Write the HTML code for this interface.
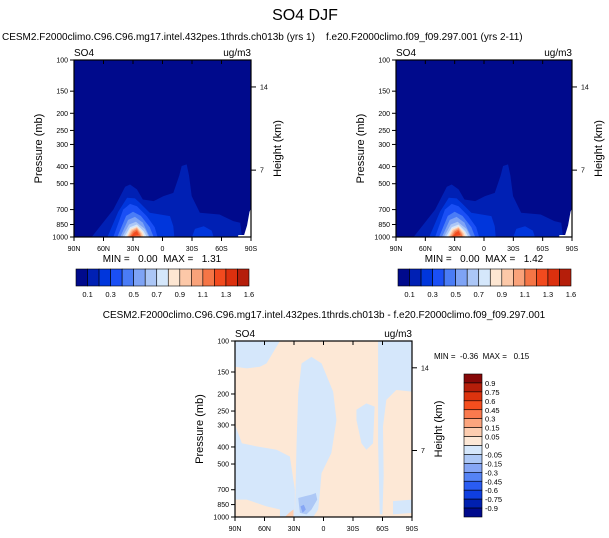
<!DOCTYPE html>
<html><head><meta charset="utf-8"><style>
body{margin:0;background:#fff}
svg{display:block;font-family:"Liberation Sans",sans-serif}
text{white-space:pre}
</style></head><body>
<svg id="c" width="609" height="538" viewBox="0 0 609 538">
<text x="305" y="20" font-size="16" text-anchor="middle">SO4 DJF</text>
</svg>
<script>
// ---- data ----
const pressureTicks=[100,150,200,250,300,400,500,700,850,1000];
const latTicks=[90,60,30,0,-30,-60,-90];
const latLabels=["90N","60N","30N","0","30S","60S","90S"];
const heightTicks=[142,419];
const heightLabels=["14","7"];
const topColors=["#000a8c","#0020b4","#0036dc","#1a4ff5","#4a7cf6","#7ea3f5","#abc6f6","#d5e7fb","#fde6d2","#fcc8a8","#f9a27a","#f57546","#f24a1e","#dc300e","#b51e0a","#860808"];
const topLabels=["0.1","0.3","0.5","0.7","0.9","1.1","1.3","1.6"];
const topLevels=[1,2,2,3,4,5,6,7,8,9,10,11,12];
const topShapes=[
 [[72,1000],[50,700],[38,520],[33,505],[26,538],[20,614],[9,627],[-1,588],[-11,563],[-17,450],[-19.5,397],[-24.6,389],[-27,450],[-29.7,588],[-38,730],[-58,746],[-72,813],[-79,831],[-80.5,967],[-81,1000]],
 [[56,1000],[45,720],[36,600],[28,605],[23,641],[13,730],[-7.6,762],[-11,870],[-12,1000]],
 [[-30,1000],[-33,900],[-42,870],[-50,920],[-52,1000]],
 [[50,1000],[40,700],[33,650],[26,670],[16,762],[8,880],[5,1000]],
 [[46,1000],[37,760],[30,720],[22,760],[13,880],[9,1000]],
 [[43,1000],[35,800],[28,770],[20,830],[13,1000]],
 [[41,1000],[34,850],[27,820],[18,900],[14,1000]],
 [[39,1000],[33,880],[26,850],[19,930],[16,1000]],
 [[37,1000],[33,900],[26,870],[20,940],[18,1000]],
 [[36,1000],[32,910],[26,880],[21,950],[19.5,1000]],
 [[35,1000],[31,920],[26,890],[22,955],[21,1000]],
 [[33.5,1000],[30,930],[26,905],[23,960],[22,1000]],
 [[32,995],[29,945],[26,925],[24,975]]
];
const missingShape=[[-77,1000],[-77,975],[-83,975],[-86,860],[-88.5,720],[-90,690],[-90,1000]];
const diffColors=["#860808","#b51e0a","#dc330e","#f54e1e","#fa7a4e","#fca57e","#fdcdb0","#fde8d6","#d5e7fb","#adc8f6","#86a6f5","#5583f5","#2a5cf2","#0f3fe0","#0020b0","#000a8c"];
const diffLabels=["0.9","0.75","0.6","0.45","0.3","0.15","0.05","0","-0.05","-0.15","-0.3","-0.45","-0.6","-0.75","-0.9"];
const diffLevels=[8,8,8,8,8,8,9,10,6];
const diffShapes=[
 [[90,100],[44.3,100],[57.9,134],[64.6,140],[78,143],[90,140]],
 [[90,299],[83,381],[68,397],[47.7,415],[34.2,453],[29.1,700],[29.1,1000],[44.3,1000],[44.3,906],[57.9,870],[78,797],[90,797]],
 [[29.1,1000],[27.4,381],[25.7,198],[22.3,134],[12.2,123],[2,134],[-9.8,194],[-13.2,281],[-8,433],[2,563],[3.7,730],[5.4,906],[10.5,1000]],
 [[-33.5,246],[-43.6,226],[-52,236],[-50.4,381],[-43.6,415],[-38.6,381],[-33.5,281]],
 [[-55.5,100],[-90,100],[-90,194],[-74,190],[-63.9,216],[-60.5,306],[-61.2,588],[-59.9,967],[-57.2,967],[-55.5,381]],
 [[-70.7,813],[-90,797],[-90,948],[-70.7,967]],
 [[25.7,780],[19,762],[12.2,746],[7.8,730],[6.4,797],[12.2,906],[17.3,967],[24,948]],
 [[23.4,870],[20,852],[18,906],[21.3,948]],
 [[39.3,1000],[35,948],[30.5,906],[30.5,1000]]
];
// ---- render ----
const svg=document.getElementById('c');
const NS="http://www.w3.org/2000/svg";
function mk(t,a,parent){const e=document.createElementNS(NS,t);for(const k in a)e.setAttribute(k,a[k]);(parent||svg).appendChild(e);return e;}
function txt(x,y,s,size,anchor,name){const e=mk('text',{x:x,y:y,'font-size':size,'text-anchor':anchor||'start'});e.textContent=s;


return e;}
function panel(x0,y0,w,h,bg,shapes,levels,colors,name,extra){
 const g=mk('g',{});
 
 
 const px=lat=>x0+(90-lat)/180*w;
 const py=p=>y0+h*Math.log10(p/100);
 const r=mk('rect',{x:x0,y:y0,width:w,height:h,fill:bg},g);
 
 
 shapes.forEach((s,i)=>{const pl=mk('polygon',{points:s.map(q=>px(q[0])+','+py(q[1])).join(' '),fill:colors[levels[i]],'stroke-linejoin':'round'},g);
  
  });
 if(extra){const pl=mk('polygon',{points:extra.map(q=>px(q[0])+','+py(q[1])).join(' '),fill:'#fff'},g);
  
  }
 mk('rect',{x:x0,y:y0,width:w,height:h,fill:'none',stroke:'#000','stroke-width':1.2},g);
 pressureTicks.forEach(p=>{const y=py(p);mk('line',{x1:x0-4,x2:x0,y1:y,y2:y,stroke:'#000'},g);
  txt(x0-6,y+2.5,String(p),7,'end','pressure-tick-label');});
 latTicks.forEach((l,i)=>{const x=px(l);mk('line',{x1:x,x2:x,y1:y0+h,y2:y0+h+4,stroke:'#000'},g);mk('line',{x1:x,x2:x,y1:y0,y2:y0+4,stroke:'#000'},g);
  txt(x,y0+h+14,latLabels[i],7,'middle','latitude-tick-label');});
 heightTicks.forEach((p,i)=>{const y=py(p);mk('line',{x1:x0+w,x2:x0+w+5,y1:y,y2:y,stroke:'#000'},g);
  txt(x0+w+9,y+2.5,heightLabels[i],7,'start','height-tick-label');});
 txt(x0,y0-4,'SO4',10,'start','variable-label');
 txt(x0+w,y0-4,'ug/m3',10,'end','units-label');
 const a=txt(0,0,'Pressure (mb)',11,'middle','y-axis-title');a.setAttribute('transform',`translate(${x0-32},${y0+h/2}) rotate(-90)`);
 const b=txt(0,0,'Height (km)',11,'middle','right-axis-title');b.setAttribute('transform',`translate(${x0+w+30},${y0+h/2}) rotate(-90)`);
}
function hbar(x0,y0,w,h,colors,labels,name){
 const bw=w/colors.length;
 colors.forEach((c,i)=>{const r=mk('rect',{x:x0+i*bw,y:y0,width:bw,height:h,fill:c,stroke:'#000','stroke-width':0.6});
  
  });
 labels.forEach((l,i)=>txt(x0+(2*i+1)*bw,y0+h+11,l,7.5,'middle','colorbar-label'));
}
function vbar(x0,y0,w,h,colors,labels){
 const bh=h/colors.length;
 colors.forEach((c,i)=>{const r=mk('rect',{x:x0,y:y0+i*bh,width:w,height:bh,fill:c,stroke:'#000','stroke-width':0.6});
  
  });
 labels.forEach((l,i)=>txt(x0+w+3,y0+(i+1)*bh+3,l,7.5,'start','colorbar-label'));
}
txt(2,40,'CESM2.F2000climo.C96.C96.mg17.intel.432pes.1thrds.ch013b (yrs 1)',10,'start','left-panel-title');
txt(326,40,'f.e20.F2000climo.f09_f09.297.001 (yrs 2-11)',10,'start','right-panel-title');
txt(324,318,'CESM2.F2000climo.C96.C96.mg17.intel.432pes.1thrds.ch013b - f.e20.F2000climo.f09_f09.297.001',10,'middle','diff-panel-title');
panel(74,60,177,177,topColors[0],topShapes,topLevels,topColors,'left-panel',missingShape);
panel(396,60,176,177,topColors[0],topShapes,topLevels,topColors,'right-panel',missingShape);
panel(235,341,177,176,'#fde8d6',diffShapes,diffLevels,diffColors,'diff-panel',null);
txt(162,262,'MIN =   0.00  MAX =   1.31',10,'middle','left-min-max');
txt(484,262,'MIN =   0.00  MAX =   1.42',10,'middle','right-min-max');
txt(434,359,'MIN =  -0.36  MAX =   0.15',8,'start','diff-min-max');
hbar(76,269,173,17,topColors.slice(0,15),topLabels,'left-colorbar');
hbar(398,269,173,17,topColors.slice(0,15),topLabels,'right-colorbar');
vbar(464,374,18,143,diffColors,diffLabels);
</script>
</body></html>
